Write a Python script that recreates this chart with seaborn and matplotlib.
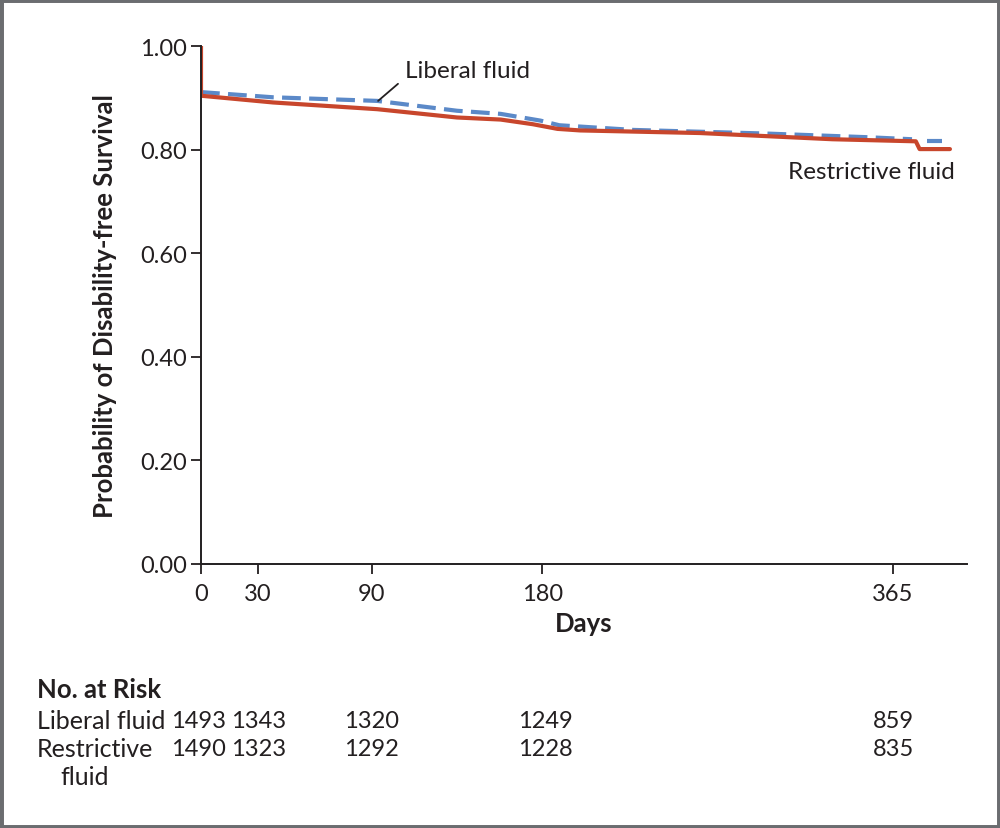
import matplotlib
matplotlib.use("Agg")
import matplotlib.pyplot as plt
import seaborn as sns
import pandas as pd
from matplotlib.patches import Rectangle
import matplotlib.transforms as mtransforms

# ---- data ----
liberal_days = [0, 0, 38, 93, 135, 158, 179, 189, 228, 298, 351, 375]
liberal_surv = [1.00, 0.911, 0.901, 0.894, 0.875, 0.869, 0.856, 0.847, 0.838, 0.831, 0.824, 0.820]
liberal_tail_days = [383, 391]
liberal_tail_surv = [0.817, 0.817]

restrictive_days = [0, 0, 38, 93, 135, 158, 175, 188, 200, 263, 333, 377, 379, 395]
restrictive_surv = [1.00, 0.904, 0.891, 0.878, 0.862, 0.858, 0.849, 0.840, 0.837, 0.832, 0.820, 0.816, 0.801, 0.801]

xticks = [0, 30, 90, 180, 365]
yticks = [0.0, 0.2, 0.4, 0.6, 0.8, 1.0]
risk_groups = ["Liberal fluid", "Restrictive\n   fluid"]
risk_liberal = [1493, 1343, 1320, 1249, 859]
risk_restrictive = [1490, 1323, 1292, 1228, 835]

RED = "#c8462c"
BLUE = "#5b89c8"
INK = "#231f20"

sns.set_theme(style="ticks")
plt.rcParams["font.family"] = ["Lato", "DejaVu Sans"]

fig = plt.figure(figsize=(10, 8.29), dpi=100)
ax = fig.add_axes([0.201, 1 - 565 / 829, 0.766, (565 - 47) / 829])

df_l = pd.DataFrame({"day": liberal_days, "surv": liberal_surv})
df_lt = pd.DataFrame({"day": liberal_tail_days, "surv": liberal_tail_surv})
df_r = pd.DataFrame({"day": restrictive_days, "surv": restrictive_surv})

sns.lineplot(data=df_l[df_l.index > 0], x="day", y="surv", ax=ax, color=BLUE, lw=3.0,
             sort=False, estimator=None)
sns.lineplot(data=df_lt, x="day", y="surv", ax=ax, color=BLUE, lw=3.0,
             sort=False, estimator=None)
for ln in ax.lines:
    ln.set_dashes([4.5, 2])
sns.lineplot(data=df_r, x="day", y="surv", ax=ax, color=RED, lw=3.0,
             sort=False, estimator=None)

ax.set_xlim(0, 404)
ax.set_ylim(0, 1.0)
ax.set_xticks(xticks)
ax.set_xticklabels([str(t) for t in xticks])
ax.set_yticks(yticks)
ax.set_yticklabels([f"{t:.2f}" for t in yticks])
ax.tick_params(axis="both", labelsize=17, colors=INK, width=1.3, length=7)
ax.tick_params(axis="x", pad=7)
ax.tick_params(axis="y", pad=3)
for s in ["left", "bottom"]:
    ax.spines[s].set_color(INK)
    ax.spines[s].set_linewidth(1.4)
sns.despine(ax=ax)
ax.spines["left"].set_bounds(0, 1.0)

ax.set_xlabel("Days", fontsize=18.5, fontweight="bold", color=INK, labelpad=5)
ax.set_ylabel("Probability of Disability-free Survival", fontsize=18.5,
              fontweight="bold", color=INK, labelpad=17)

# curve labels
ax.text(107.6, 0.952, "Liberal fluid", fontsize=17.5, color=INK, va="center", ha="left")
ax.plot([103.9, 93.4], [0.927, 0.894], color=INK, lw=1.3)
ax.text(397.5, 0.757, "Restrictive fluid", fontsize=17.5, color=INK, va="center", ha="right")

# number at risk table
fig.text(0.037, 1 - 690 / 829, "No. at Risk", fontsize=18.5, fontweight="bold",
         color=INK, va="center", ha="left")
trans = mtransforms.blended_transform_factory(ax.transData, fig.transFigure)
row_y = [1 - 722 / 829, 1 - 750 / 829]
fig.text(0.037, row_y[0], risk_groups[0], fontsize=18, color=INK, va="center", ha="left")
fig.text(0.037, row_y[1], "Restrictive", fontsize=18, color=INK, va="center", ha="left")
fig.text(0.060, 1 - 778 / 829, "fluid", fontsize=18, color=INK, va="center", ha="left")
num_offsets = [-1.5, 0.5, 0, 1.5, 0]
for vals, yy in zip([risk_liberal, risk_restrictive], row_y):
    for t, v, o in zip(xticks, vals, num_offsets):
        fig.text(t + o, yy, str(v), transform=trans, fontsize=17, color=INK,
                 va="center", ha="center")

fig.patches.append(Rectangle((0, 0), 1, 1, transform=fig.transFigure, fill=False,
                             edgecolor="#6b6d70", lw=5, zorder=10))

fig.savefig("out.png", dpi=100, facecolor="white")
